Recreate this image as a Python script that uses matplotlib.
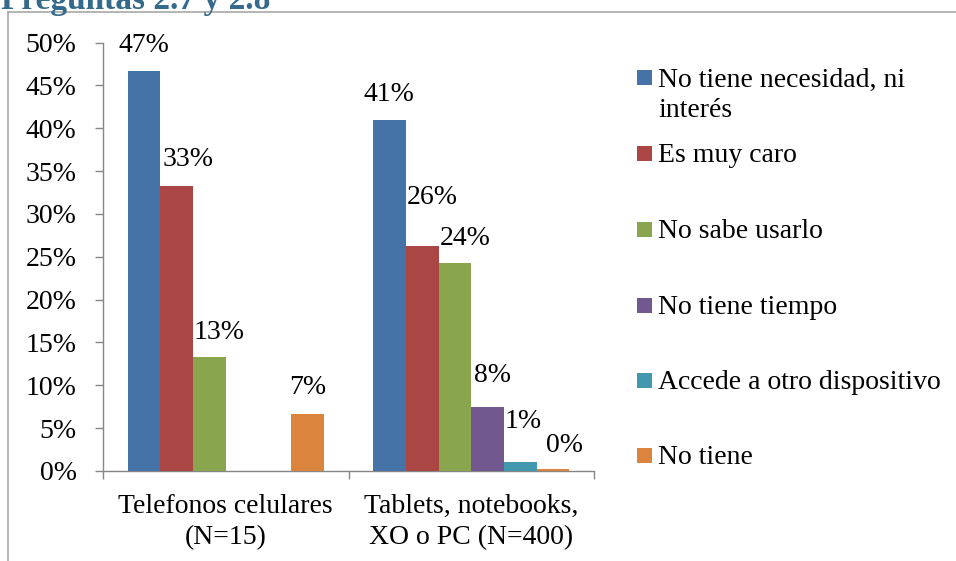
import numpy as np
import matplotlib.pyplot as plt
from matplotlib.lines import Line2D
from matplotlib.patches import Rectangle

# Datos (proporciones) - Preguntas 2.7 y 2.8
categorias = ['Telefonos celulares\n(N=15)', 'Tablets, notebooks,\nXO o PC (N=400)']
razones = ['No tiene necesidad, ni\ninterés', 'Es muy caro', 'No sabe usarlo',
           'No tiene tiempo', 'Accede a otro dispositivo', 'No tiene']
celulares = [0.467, 0.333, 0.133, None, None, 0.067]
tablets = [0.41, 0.2625, 0.2425, 0.075, 0.01, 0.0025]
etiquetas_y = ['0%', '5%', '10%', '15%', '20%', '25%', '30%', '35%', '40%', '45%', '50%']

colores = ['#4572A7', '#AA4643', '#89A54E', '#71588F', '#4198AF', '#DB843D']
# ajuste manual de las etiquetas (dx, dy en pixeles sobre el tope de la barra)
desplaz = [[(0, 25), (11, 26), (10, 25), None, None, (0, 26)],
           [(0, 25), (10, 49), (10, 25), (5, 31), (3, 41), (11, 23)]]

W, H = 956, 561
plt.rcParams['font.family'] = ['Liberation Serif', 'DejaVu Serif']
fig = plt.figure(figsize=(W / 100, H / 100), dpi=100)

def fx(px):
    return px / W

def fy(py):
    return 1 - py / H

ax = fig.add_axes([fx(103), fy(471), fx(594) - fx(103), fy(42.5) - fy(471)])

gris = '#868686'
n = len(razones)
ancho = 1 / (n + 1.5)
x = np.arange(len(categorias))
datos = [celulares, tablets]

for i in range(n):
    vals = [d[i] if d[i] is not None else 0 for d in datos]
    pos = x + (i - (n - 1) / 2) * ancho
    ax.bar(pos, vals, width=ancho, color=colores[i], linewidth=0, zorder=3)
    for g in range(len(categorias)):
        v = datos[g][i]
        if v is None:
            continue
        dx, dy = desplaz[g][i]
        ax.annotate(f'{round(v * 100)}%', xy=(pos[g], v), xytext=(dx, dy),
                    textcoords='offset pixels', ha='center', va='center',
                    fontsize=20, color='black')

ax.set_xlim(-0.5, 1.5)
ax.set_ylim(0, 0.5)
ax.set_yticks(np.arange(0, 0.5001, 0.05))
ax.set_yticklabels(etiquetas_y)
ax.set_xticks(x)
ax.set_xticklabels(categorias, linespacing=1.32)
ax.set_xticks([-0.5, 0.5, 1.5], minor=True)

ax.tick_params(axis='y', length=5.5, width=1, color=gris, pad=13.5, labelsize=20)
ax.tick_params(axis='x', which='major', length=0, pad=16.5, labelsize=20)
ax.tick_params(axis='x', which='minor', length=5.5, width=1, color=gris)

for s in ['top', 'right']:
    ax.spines[s].set_visible(False)
for s in ['left', 'bottom']:
    ax.spines[s].set_color(gris)
    ax.spines[s].set_linewidth(1)

# leyenda manual
centros = [78, 153, 229, 305, 380, 455]
paso_linea = 30
for i, nombre in enumerate(razones):
    cy = centros[i]
    extra = nombre.count('\n') * paso_linea
    fig.add_artist(Rectangle((fx(637), fy(cy + 7.5)), fx(15), 15 / H,
                             transform=fig.transFigure, color=colores[i], linewidth=0))
    fig.text(fx(658), fy(cy + 9.4 + extra), nombre, fontsize=20, va='baseline',
             ha='left', linespacing=1.3)

# marco del grafico
borde = '#A0A0A0'
fig.add_artist(Line2D([fx(8), 1.01], [fy(12), fy(12)], transform=fig.transFigure,
                      color=borde, linewidth=1.1))
fig.add_artist(Line2D([fx(8), fx(8)], [-0.01, fy(12)], transform=fig.transFigure,
                      color=borde, linewidth=1.1))

fig.text(fx(1), fy(9), 'Preguntas 2.7 y 2.8', fontsize=24, fontweight='bold',
         color='#346A8B', va='baseline', ha='left')

fig.savefig('out.png', dpi=100)
